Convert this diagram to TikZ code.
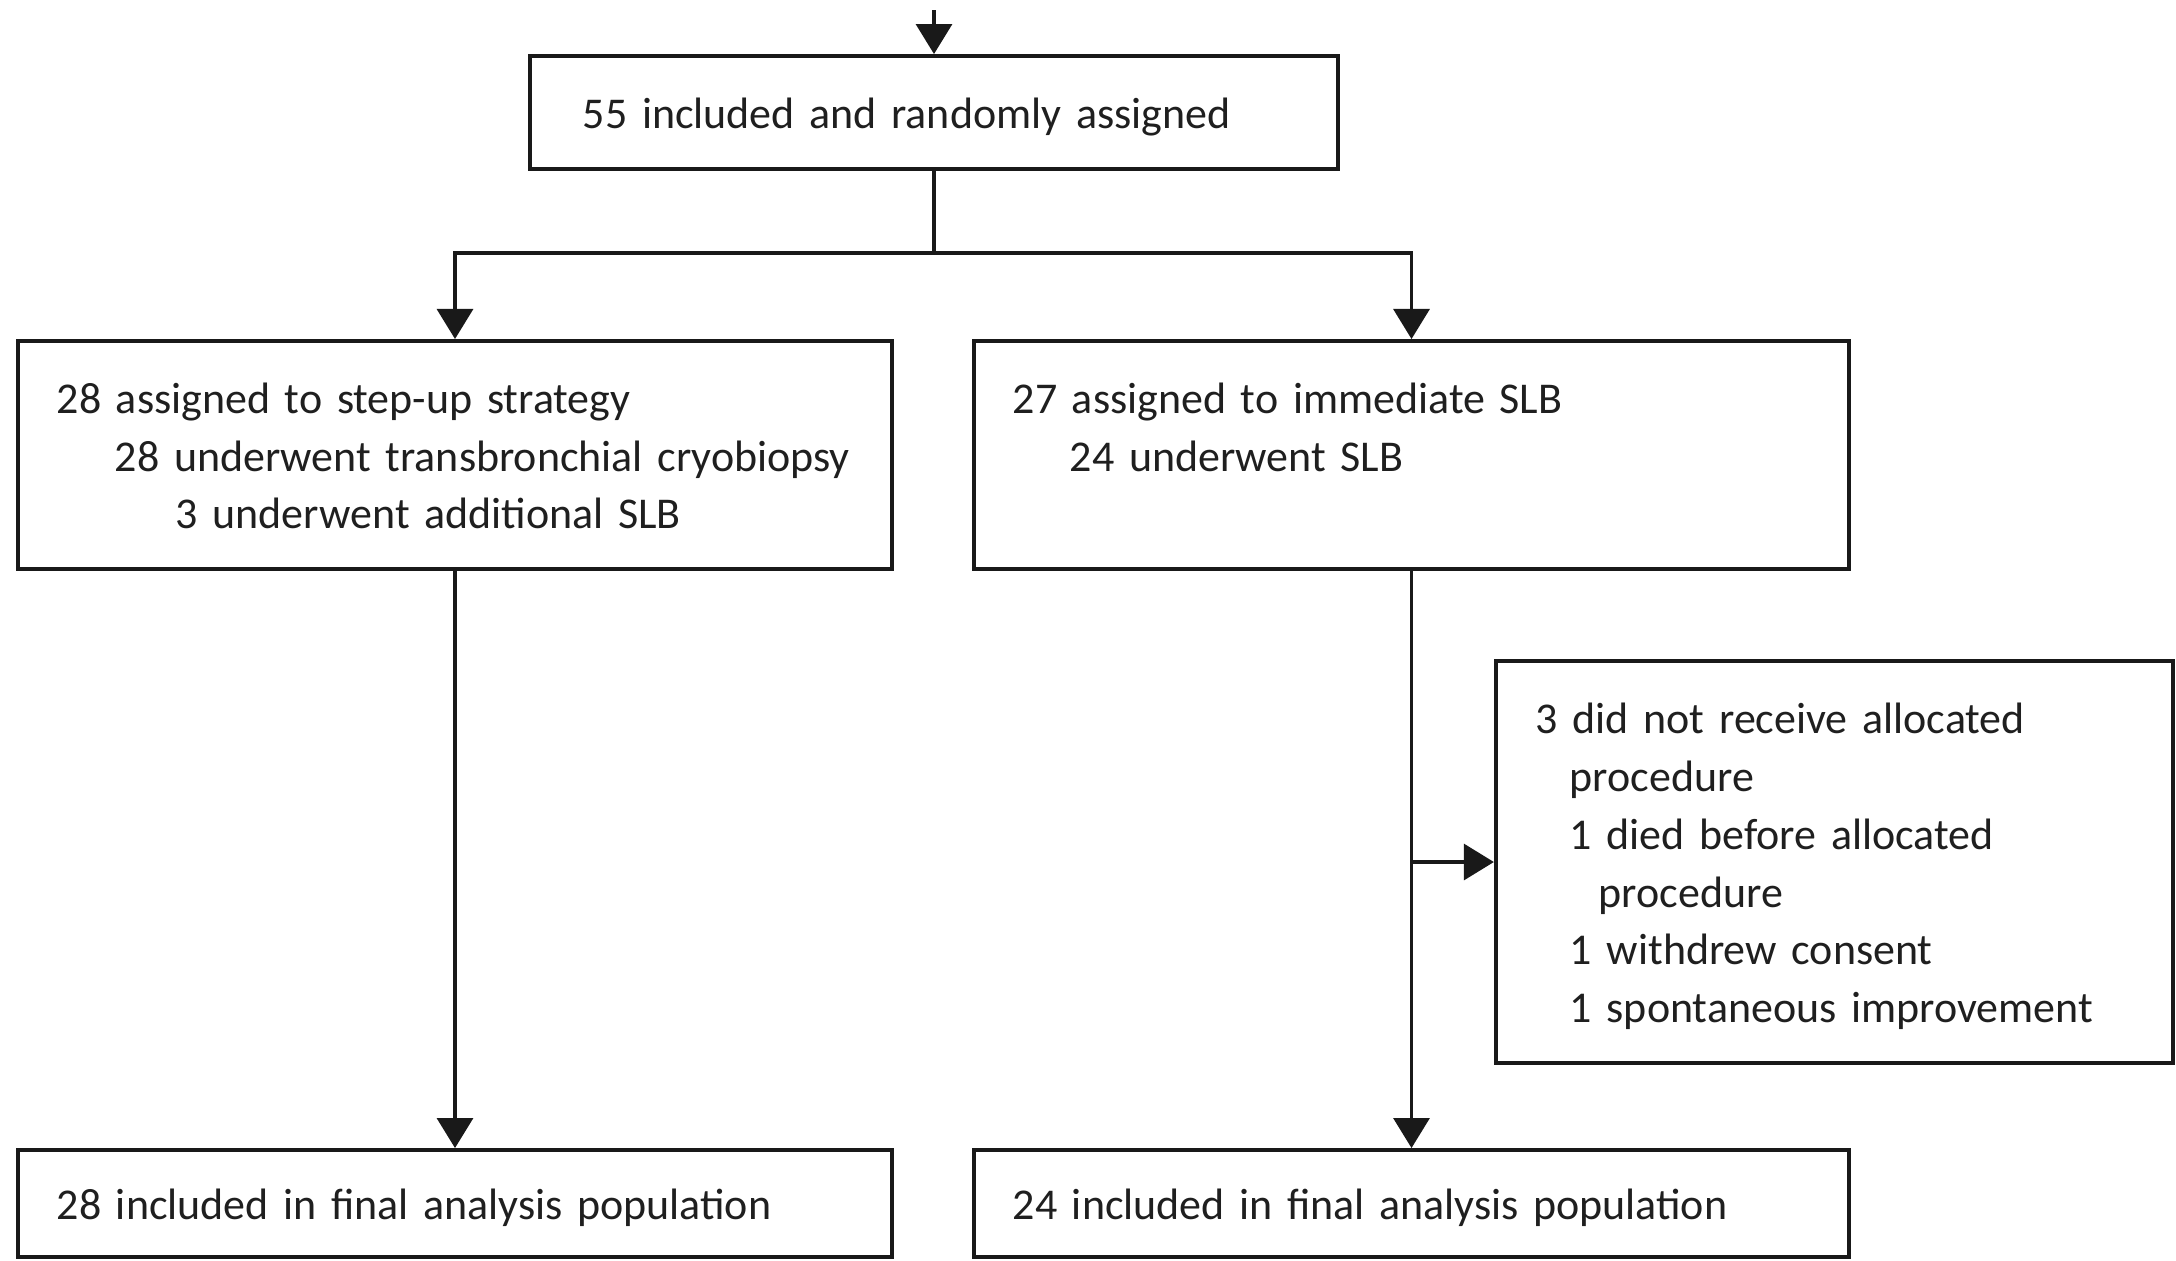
\documentclass[tikz,border=0pt]{standalone}
\usepackage{fontspec}
\setmainfont{Carlito}
\usetikzlibrary{arrows.meta,positioning,calc}
\newcommand{\ls}{\rule[-0.22\baselineskip]{0pt}{\baselineskip}}

\begin{document}
\begin{tikzpicture}[x=0.01cm,y=-0.01cm,
    box/.style={draw=black!90, line width=1.1pt, rectangle, inner ysep=0pt,
        align=left, font=\fontsize{12.5pt}{16.4pt}\selectfont, text=black!88},
    arr/.style={-{Triangle[length=0.3cm,width=0.36cm]}, line width=0.9pt, draw=black!90},
    link/.style={line width=0.9pt, draw=black!90}]
    \useasboundingbox (0,0) rectangle (2176,1260);
    \node[box, minimum width=8.08cm, minimum height=1.13cm, inner xsep=0.53cm, text width=7.02cm] (rand) at (934,112.5)
        {\ls 55 included and randomly assigned};
    \node[box, minimum width=8.74cm, minimum height=2.28cm, inner xsep=0.39cm, text width=7.96cm] (stepup) at (455,455)
        {\ls 28 assigned to step-up strategy\\
         \hspace*{0.58cm}\ls\mbox{28 underwent transbronchial cryobiopsy}\\
         \hspace*{1.19cm}\ls 3 underwent additional SLB};
    \node[box, minimum width=8.75cm, minimum height=2.28cm, inner xsep=0.39cm, text width=7.97cm] (slb) at (1411.5,455)
        {\ls 27 assigned to immediate SLB\\
         \hspace*{0.57cm}\ls 24 underwent SLB\\
         \ls};
    \node[box, minimum width=6.77cm, minimum height=4.02cm, inner xsep=0.40cm, text width=5.97cm] (excl) at (1834.5,862)
        {\ls 3 did not receive allocated\\
         \hspace*{0.34cm}\ls procedure\\
         \hspace*{0.34cm}\ls 1 died before allocated\\
         \hspace*{0.63cm}\ls procedure\\
         \hspace*{0.34cm}\ls 1 withdrew consent\\
         \hspace*{0.34cm}\ls 1 spontaneous improvement};
    \node[box, minimum width=8.74cm, minimum height=1.07cm, inner xsep=0.39cm, text width=7.96cm] (finA) at (455,1203.5)
        {\ls 28 included in final analysis population};
    \node[box, minimum width=8.75cm, minimum height=1.07cm, inner xsep=0.39cm, text width=7.97cm] (finB) at (1411.5,1203.5)
        {\ls 24 included in final analysis population};
    \coordinate (entry) at (934,10);
    \coordinate (split) at (934,253);
    \draw[arr] (entry) -- (rand);
    \draw[link] (rand) -- (split);
    \draw[arr] (split) -| (stepup);
    \draw[arr] (split) -| (slb);
    \draw[arr] (stepup) -- (finA);
    \draw[arr] (slb) -- (finB);
    \draw[arr] (slb.south |- excl) -- (excl);
\end{tikzpicture}
\end{document}
